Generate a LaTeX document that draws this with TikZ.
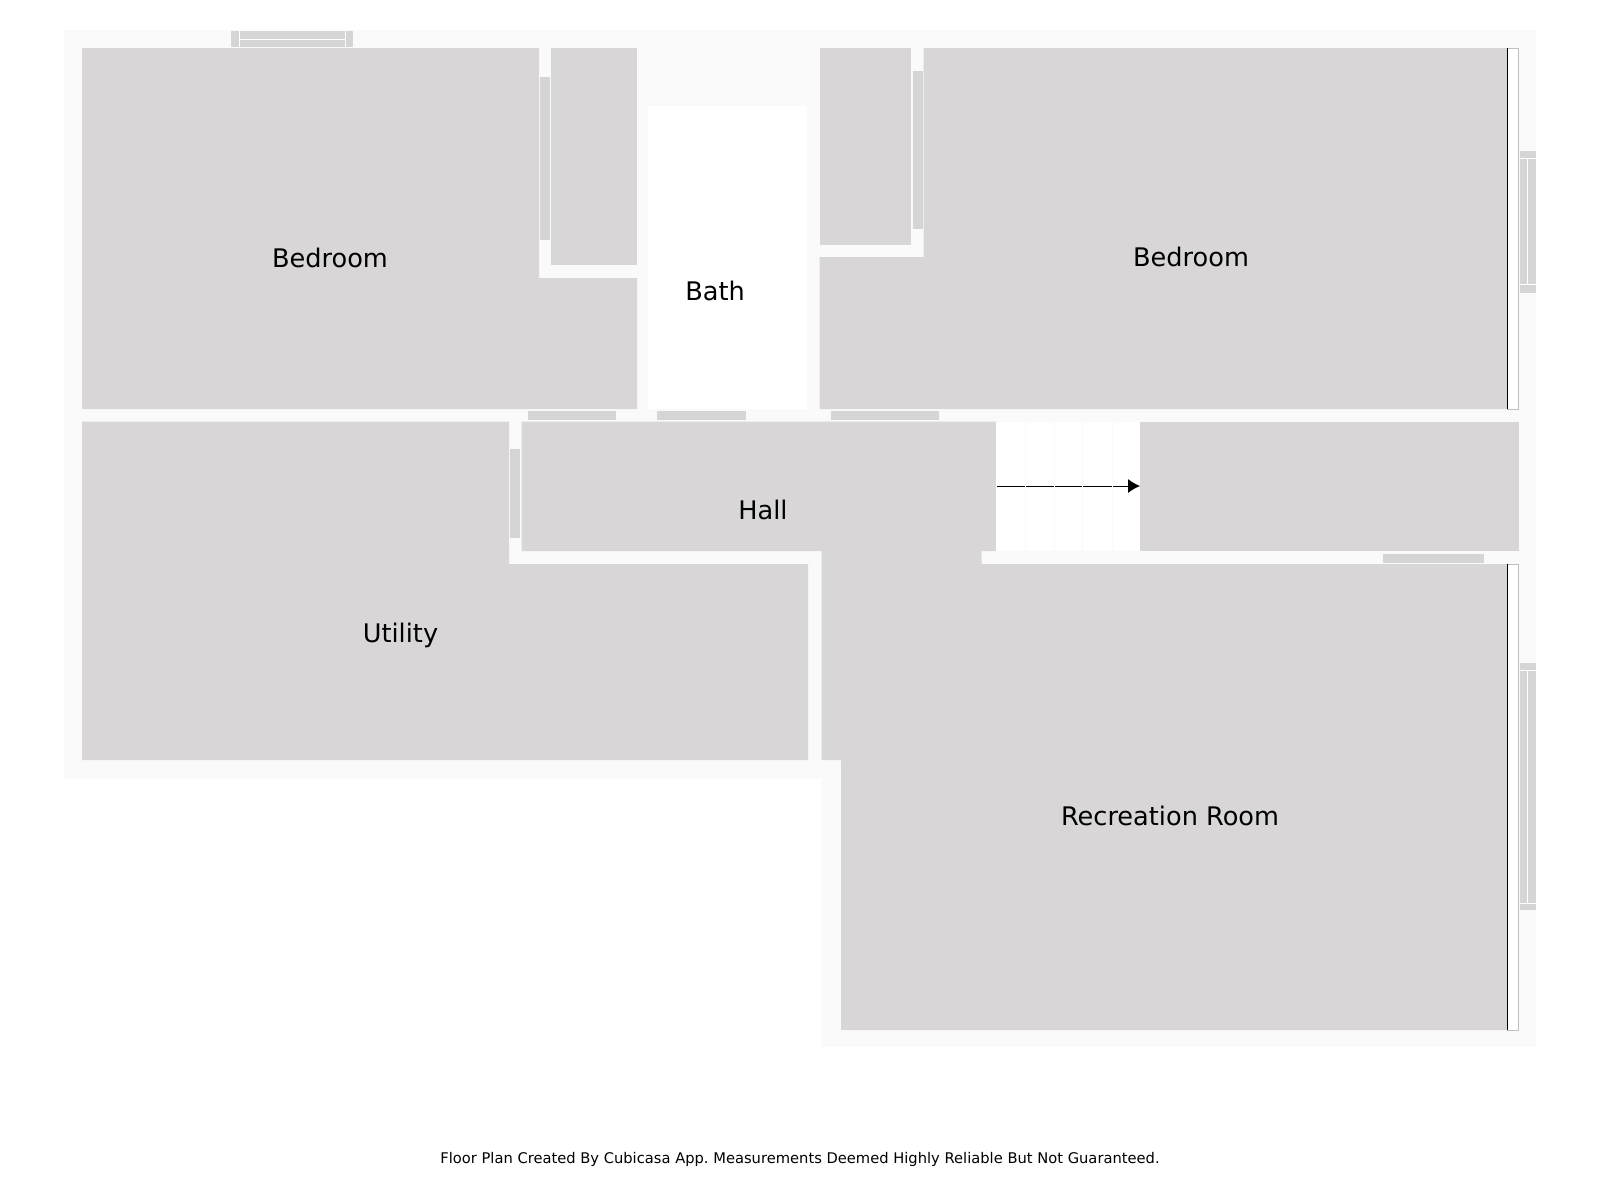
\documentclass[tikz,border=0pt]{standalone}
\usepackage{fontspec}
\setmainfont{DejaVu Sans}
\usepackage{xcolor}
\usetikzlibrary{arrows.meta,positioning}
\definecolor{roomgray}{HTML}{D8D6D7}
\definecolor{wallpale}{HTML}{FBFAFA}
\definecolor{panelgray}{HTML}{D6D5D5}
\frenchspacing
\begin{document}
\begin{tikzpicture}[x=1pt, y=-1pt]
    \tikzstyle{room} = [fill=roomgray, draw=none]
    \tikzstyle{wall} = [fill=wallpale, draw=none]
    \tikzstyle{opening} = [fill=panelgray, draw=none]
    \tikzstyle{glazing} = [draw=white, line width=0.9pt]
    \tikzstyle{strip} = [fill=white, draw=black!25, line width=0.6pt]
    \tikzstyle{tread} = [draw=wallpale, line width=0.9pt]
    \tikzstyle{arrow} = [line width=1pt, -{Latex[length=12pt, width=14pt]}]
    \tikzstyle{label} = [font=\fontsize{25.6}{30}\selectfont, text=black, inner sep=0pt]
    \tikzstyle{footer} = [font=\fontsize{14.7}{18}\selectfont, text=black, inner sep=0pt]

    \useasboundingbox (0,0) rectangle (1600,1200);
    \fill [white] (0,0) rectangle (1600,1200);

    \path [wall] (64,30) -- (1536,30) -- (1536,1047) -- (821.5,1047) -- (821.5,778.5) -- (64,778.5) -- cycle;

    \path [room] (82,48) -- (539,48) -- (539,278) -- (637,278) -- (637,409) -- (82,409) -- cycle;
    \path [room] (551,48) rectangle (637,265);
    \path [room] (819.5,48) rectangle (911,245);
    \path [room] (923.5,48) -- (1507,48) -- (1507,409) -- (819.5,409) -- (819.5,257) -- (923.5,257) -- cycle;
    \path [fill=white] (648,106) rectangle (807,409);
    \path [room] (82,421.5) -- (509,421.5) -- (509,564) -- (808,564) -- (808,760) -- (82,760) -- cycle;
    \path [room] (521.5,421.5) -- (996,421.5) -- (996,551) -- (981.5,551) -- (981.5,564) -- (1507,564) -- (1507,1030) -- (841,1030) -- (841,760) -- (821.5,760) -- (821.5,551) -- (521.5,551) -- cycle;
    \path [room] (1140,421.5) rectangle (1518.5,551);
    \path [fill=white] (996,421.5) rectangle (1140,551);

    \path [strip] (1507.5,48) rectangle (1518.5,409);
    \path [strip] (1507.5,564) rectangle (1518.5,1030);
    \draw [line width=1.5pt, black] (1507.5,48) -- (1507.5,409);
    \draw [line width=1.5pt, black] (1507.5,564) -- (1507.5,1030);

    \path [opening] (540,76.5) rectangle (550,240);
    \path [opening] (912.5,70.5) rectangle (922.5,228.5);
    \path [opening] (510,449) rectangle (520,538);
    \path [opening] (527.5,410.5) rectangle (615.5,420);
    \path [opening] (657,410.5) rectangle (745.5,420);
    \path [opening] (831,410.5) rectangle (939,420);
    \path [opening] (1383,553.5) rectangle (1484,562.5);

    \path [opening] (231,31) rectangle (353,47);
    \draw [glazing] (239,31) -- (239,47);
    \draw [glazing] (345,31) -- (345,47);
    \draw [glazing] (239,39) -- (345,39);

    \path [opening] (1520,150.5) rectangle (1536,293);
    \draw [glazing] (1520,158) -- (1536,158);
    \draw [glazing] (1520,284.5) -- (1536,284.5);
    \draw [glazing] (1527.5,158) -- (1527.5,284.5);

    \path [opening] (1520,662.5) rectangle (1536,910);
    \draw [glazing] (1520,670) -- (1536,670);
    \draw [glazing] (1520,903) -- (1536,903);
    \draw [glazing] (1527.5,670) -- (1527.5,903);

    \coordinate (stairfoot) at (997,486);
    \coordinate (stairhead) at (1140,486);
    \draw [arrow] (stairfoot) -- (stairhead);
    \foreach \x in {1025.5,1054,1082.5,1112} {
        \draw [tread] (\x,421.5) -- (\x,551);
    }

    \node [label] (bedroomleft) at (330,258) {Bedroom};
    \node [label] (bedroomright) at (1191,257) {Bedroom};
    \node [label] (bath) at (715,291) {Bath};
    \node [label] (hall) at (763,510) {Hall};
    \node [label] (utility) at (400.5,635.5) {Utility};
    \node [label] (recreation) at (1170,816) {Recreation Room};
    \node [footer] (credit) at (800,1159) {Floor Plan Created By Cubicasa App. Measurements Deemed Highly Reliable But Not Guaranteed.};
\end{tikzpicture}
\end{document}
